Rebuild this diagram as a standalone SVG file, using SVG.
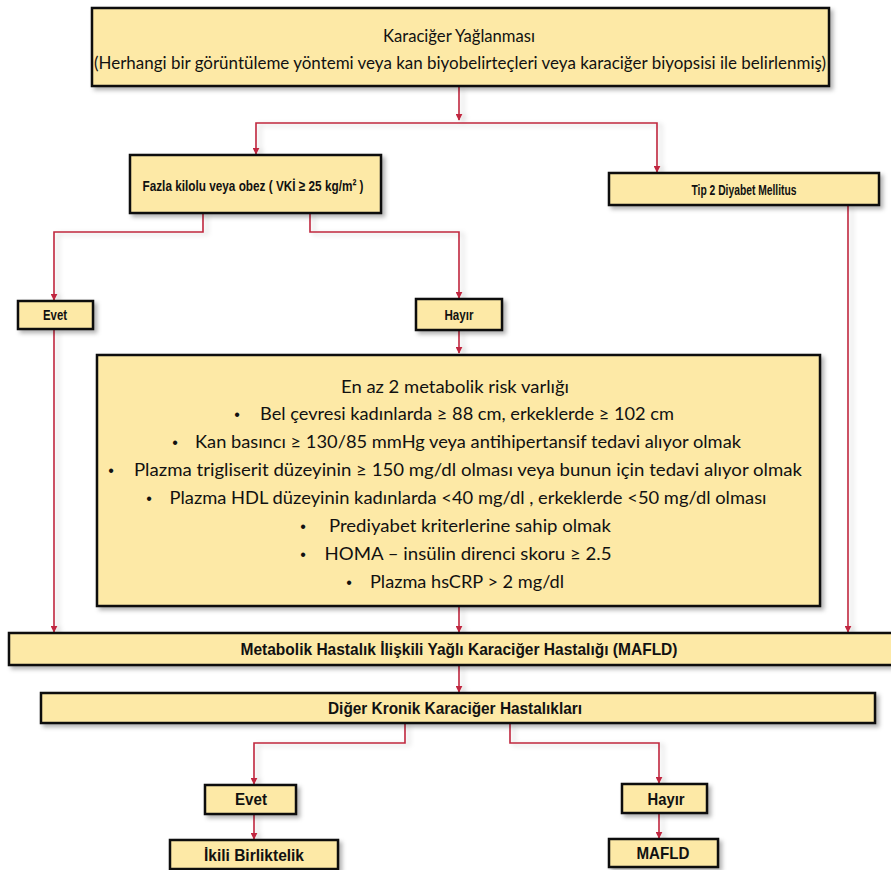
<svg xmlns="http://www.w3.org/2000/svg" width="891" height="870" viewBox="0 0 891 870">
<defs>
<filter id="sh" x="-10%" y="-20%" width="130%" height="160%">
<feDropShadow dx="3" dy="3" stdDeviation="2" flood-color="#000" flood-opacity="0.3"/>
</filter>
<filter id="lsh" filterUnits="userSpaceOnUse" x="0" y="0" width="891" height="870">
<feDropShadow dx="4" dy="2" stdDeviation="2.5" flood-color="#000" flood-opacity="0.18"/>
</filter>
<marker id="ah" viewBox="0 0 10 10" refX="9" refY="5" markerWidth="7" markerHeight="7" orient="auto" markerUnits="userSpaceOnUse">
<path d="M0,0 L10,5 L0,10 z" fill="#C0283F"/>
</marker>
</defs>
<style>
.box{fill:#FDE9A6;stroke:#111;stroke-width:2.5;filter:url(#sh)}
.lab{font-family:"Liberation Sans",Arial,sans-serif;font-weight:bold;fill:#111;text-anchor:middle}
.reg{font-family:Lato,"Liberation Sans",sans-serif;fill:#111;text-anchor:middle}
.bul{font-family:"Liberation Sans",sans-serif;fill:#111;text-anchor:middle;font-size:16px}
.con{fill:none;stroke:#C0283F;stroke-width:1.6}
</style>
<rect width="891" height="870" fill="#fff"/>

<g id="connectors" filter="url(#lsh)">
<path class="con" d="M459 87 V120" marker-end="url(#ah)"/>
<path class="con" d="M459 123 H256 V154" marker-end="url(#ah)"/>
<path class="con" d="M459 123 H657 V172" marker-end="url(#ah)"/>
<path class="con" d="M203 213 V232 H54 V300" marker-end="url(#ah)"/>
<path class="con" d="M310 213 V232 H459 V298" marker-end="url(#ah)"/>
<path class="con" d="M54 330 V632" marker-end="url(#ah)"/>
<path class="con" d="M459 331 V353" marker-end="url(#ah)"/>
<path class="con" d="M459 607 V632" marker-end="url(#ah)"/>
<path class="con" d="M848 205 V632" marker-end="url(#ah)"/>
<path class="con" d="M459 666 V692" marker-end="url(#ah)"/>
<path class="con" d="M405 724 V743 H254 V784" marker-end="url(#ah)"/>
<path class="con" d="M510 724 V743 H659 V783" marker-end="url(#ah)"/>
<path class="con" d="M254 815 V839" marker-end="url(#ah)"/>
<path class="con" d="M659 814 V838" marker-end="url(#ah)"/>
</g>

<g id="n-top">
<rect class="box" x="92" y="8" width="737" height="78"/>
<text class="reg" x="459" y="42" font-size="17" textLength="152" lengthAdjust="spacingAndGlyphs">Karaciğer Yağlanması</text>
<text class="reg" x="460" y="69" font-size="17" textLength="732" lengthAdjust="spacingAndGlyphs">(Herhangi bir görüntüleme yöntemi veya kan biyobelirteçleri veya karaciğer biyopsisi ile belirlenmiş)</text>
</g>

<g id="n-fazla">
<rect class="box" x="130" y="155" width="251" height="58"/>
<text class="lab" x="253" y="191" font-size="15.5" textLength="221" lengthAdjust="spacingAndGlyphs">Fazla kilolu veya  obez ( VKİ ≥ 25 kg/m²  )</text>
</g>

<g id="n-tip2">
<rect class="box" x="609" y="173" width="270" height="32"/>
<text class="lab" x="744" y="195" font-size="15.5" textLength="105" lengthAdjust="spacingAndGlyphs">Tip 2 Diyabet Mellitus</text>
</g>

<g id="n-evet1">
<rect class="box" x="18" y="301" width="75" height="28"/>
<text class="lab" x="55" y="320" font-size="15.5" textLength="24" lengthAdjust="spacingAndGlyphs">Evet</text>
</g>

<g id="n-hayir1">
<rect class="box" x="416" y="299" width="86" height="31"/>
<text class="lab" x="459" y="320" font-size="15.5" textLength="29" lengthAdjust="spacingAndGlyphs">Hayır</text>
</g>

<g id="n-risk">
<rect class="box" x="97" y="355" width="723" height="251"/>
<text class="reg" x="455" y="393" font-size="18" textLength="228" lengthAdjust="spacingAndGlyphs">En az 2 metabolik risk varlığı</text>
<text class="bul" x="237" y="420">•</text>
<text class="reg" x="467" y="420" font-size="18" textLength="414" lengthAdjust="spacingAndGlyphs">Bel çevresi kadınlarda ≥ 88 cm, erkeklerde ≥ 102 cm</text>
<text class="bul" x="175" y="448">•</text>
<text class="reg" x="468" y="448" font-size="18" textLength="546" lengthAdjust="spacingAndGlyphs">Kan basıncı ≥ 130/85 mmHg veya antihipertansif tedavi alıyor olmak</text>
<text class="bul" x="111" y="476">•</text>
<text class="reg" x="468" y="476" font-size="18" textLength="668" lengthAdjust="spacingAndGlyphs">Plazma trigliserit düzeyinin  ≥ 150 mg/dl olması veya bunun için tedavi alıyor olmak</text>
<text class="bul" x="149" y="504">•</text>
<text class="reg" x="468" y="504" font-size="18" textLength="597" lengthAdjust="spacingAndGlyphs">Plazma HDL düzeyinin kadınlarda &lt;40 mg/dl , erkeklerde &lt;50 mg/dl olması</text>
<text class="bul" x="303" y="532">•</text>
<text class="reg" x="470" y="532" font-size="18" textLength="282" lengthAdjust="spacingAndGlyphs">Prediyabet kriterlerine sahip olmak</text>
<text class="bul" x="303" y="560">•</text>
<text class="reg" x="468" y="560" font-size="18" textLength="287" lengthAdjust="spacingAndGlyphs">HOMA – insülin direnci skoru  ≥  2.5</text>
<text class="bul" x="349" y="588">•</text>
<text class="reg" x="467" y="588" font-size="18" textLength="194" lengthAdjust="spacingAndGlyphs">Plazma hsCRP &gt; 2 mg/dl</text>
</g>

<g id="n-mafld">
<rect class="box" x="9" y="633" width="890" height="32"/>
<text class="lab" x="459" y="655" font-size="16.5" textLength="437" lengthAdjust="spacingAndGlyphs">Metabolik Hastalık İlişkili Yağlı Karaciğer Hastalığı (MAFLD)</text>
</g>

<g id="n-diger">
<rect class="box" x="41" y="693" width="834" height="30"/>
<text class="lab" x="455" y="714" font-size="16.5" textLength="254" lengthAdjust="spacingAndGlyphs">Diğer Kronik Karaciğer Hastalıkları</text>
</g>

<g id="n-evet2">
<rect class="box" x="205" y="785" width="91" height="29"/>
<text class="lab" x="251" y="805" font-size="17" textLength="32" lengthAdjust="spacingAndGlyphs">Evet</text>
</g>

<g id="n-hayir2">
<rect class="box" x="622" y="784" width="85" height="29"/>
<text class="lab" x="666" y="805" font-size="17" textLength="37" lengthAdjust="spacingAndGlyphs">Hayır</text>
</g>

<g id="n-ikili">
<rect class="box" x="170" y="840" width="168" height="29"/>
<text class="lab" x="254" y="861" font-size="17" textLength="100" lengthAdjust="spacingAndGlyphs">İkili Birliktelik</text>
</g>

<g id="n-mafld2">
<rect class="box" x="609" y="839" width="109" height="28"/>
<text class="lab" x="663" y="859" font-size="17" textLength="53" lengthAdjust="spacingAndGlyphs">MAFLD</text>
</g>
</svg>
